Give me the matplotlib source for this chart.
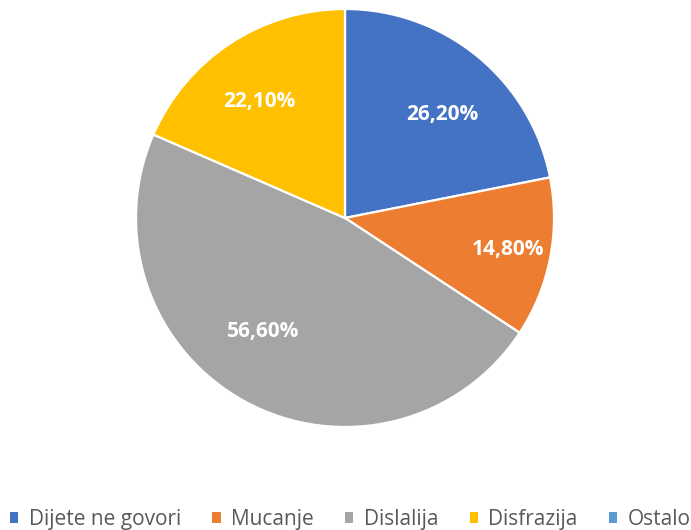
import matplotlib
matplotlib.use("Agg")
import matplotlib.pyplot as plt
from matplotlib.patches import Patch
import numpy as np

plt.rcParams['font.family'] = ['Open Sans', 'DejaVu Sans']

kategorije = ["Dijete ne govori", "Mucanje", "Dislalija", "Disfrazija", "Ostalo"]
postotci = [26.2, 14.8, 56.6, 22.1, 0.0]
boje = ["#4472C4", "#ED7D31", "#A5A5A5", "#FFC000", "#5B9BD5"]

fig = plt.figure(figsize=(6.91, 5.30), dpi=100)
# pie centre ~ (345, 218) px, radius ~ 209 px
ax = fig.add_axes([(345 - 209) / 691, (530 - 218 - 209) / 530, 418 / 691, 418 / 530])

vrijednosti = [v for v in postotci if v > 0]
boje_p = [b for v, b in zip(postotci, boje) if v > 0]

wedges, _ = ax.pie(vrijednosti, colors=boje_p, startangle=90, counterclock=False,
                   wedgeprops=dict(edgecolor="white", linewidth=1.6))

# label placement per slice: distance (fraction of radius), angle shift (deg)
udaljenost = [0.69, 0.79, 0.66, 0.70]
pomak = [-3, 1, -8, 2.5]
for w, v, d, p in zip(wedges, vrijednosti, udaljenost, pomak):
    kut = np.deg2rad((w.theta1 + w.theta2) / 2 + p)
    ax.text(d * np.cos(kut), d * np.sin(kut) - 0.012, f"{v:.2f}%".replace(".", ","),
            ha="center", va="center", color="white", fontsize=15, fontweight="bold")

ax.set_xlim(-1, 1)
ax.set_ylim(-1, 1)
ax.set_aspect("equal")
ax.axis("off")

ruke = [Patch(facecolor=b, edgecolor="none") for b in boje]
fig.legend(ruke, kategorije, loc="center", bbox_to_anchor=(0.507, 0.02), ncol=5,
           frameon=False, fontsize=15, handlelength=0.4, handleheight=0.4,
           handletextpad=0.5, columnspacing=1.5, labelcolor="#595959",
           borderaxespad=0, borderpad=0)

fig.savefig("out.png", dpi=100)
